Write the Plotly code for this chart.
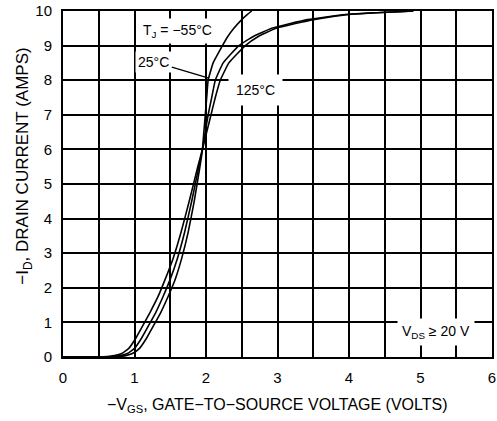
import plotly.graph_objects as go

current_a = [0, 0, 0.01, 0.04, 0.1, 0.25, 0.55, 0.92, 1.3, 1.75, 2.25, 2.85, 3.6, 4.5, 5.5, 6,
             6.5, 7, 7.5, 8, 8.5, 9, 9.25, 9.5, 9.75, 9.9, 10]

# Gate-to-source voltage (V) for each junction temperature at those currents
vgs_m55 = [0, 0.65, 0.78, 0.88, 0.97, 1.07, 1.17, 1.27, 1.37, 1.47, 1.57, 1.66, 1.75, 1.835,
           1.915, 1.95, 1.97, 1.99, 2.01, 2.03, 2.1, 2.23, 2.3, 2.39, 2.5, 2.58, 2.64]
vgs_25 = [0, 0.55, 0.7, 0.8, 0.9, 1.0, 1.1, 1.2, 1.3, 1.4, 1.5, 1.6, 1.7, 1.8,
          1.9, 1.95, 1.99, 2.03, 2.08, 2.13, 2.24, 2.46, 2.65, 2.92, 3.42, 3.95, 4.9]
vgs_125 = [0, 0.45, 0.62, 0.72, 0.82, 0.92, 1.02, 1.12, 1.22, 1.33, 1.43, 1.54, 1.65, 1.765,
           1.885, 1.95, 2.01, 2.07, 2.13, 2.2, 2.32, 2.55, 2.72, 2.98, 3.5, 4.0, 4.9]

x_ticks = [0, 1, 2, 3, 4, 5, 6]
y_ticks = [0, 1, 2, 3, 4, 5, 6, 7, 8, 9, 10]

FONT = "Liberation Sans, Arial, sans-serif"
BLACK = "black"

fig = go.Figure()
for vx in (vgs_m55, vgs_25, vgs_125):
    fig.add_trace(go.Scatter(x=vx, y=current_a, mode="lines",
                             line=dict(color=BLACK, width=1.6, shape="spline", smoothing=0.35),
                             showlegend=False, hoverinfo="skip"))

lab_font = dict(size=14, color=BLACK, family=FONT)
fig.add_annotation(x=1.6, y=9.42, text="T<sub>J</sub> = −55°C", showarrow=False,
                   bgcolor="white", borderpad=3, font=lab_font)
fig.add_annotation(x=2.04, y=8.06, ax=1.27, ay=8.53, axref="x", ayref="y",
                   text="25°C", showarrow=True, arrowhead=0, arrowwidth=1.3,
                   arrowcolor=BLACK, bgcolor="white", borderpad=2, standoff=0,
                   font=lab_font)
fig.add_annotation(x=2.69, y=7.72, text="125°C", showarrow=False, bgcolor="white",
                   borderpad=7, font=lab_font)
fig.add_annotation(x=5.22, y=0.72, text="V<sub>DS</sub> ≥ 20 V", showarrow=False,
                   bgcolor="white", borderpad=4, font=lab_font)

# axis titles
fig.add_annotation(xref="paper", yref="paper", x=0.5, y=0, yshift=-48,
                   text="−V<sub>GS</sub>, GATE−TO−SOURCE VOLTAGE (VOLTS)", showarrow=False,
                   xanchor="center", yanchor="middle",
                   font=dict(size=16, color=BLACK, family=FONT))
fig.add_annotation(xref="paper", yref="paper", x=0, y=0.55, xshift=-39,
                   text="−I<sub>D</sub>, DRAIN CURRENT (AMPS)", showarrow=False, textangle=-90,
                   xanchor="center", yanchor="middle",
                   font=dict(size=17, color=BLACK, family=FONT))

fig.update_xaxes(range=[0, 6], tickvals=x_ticks, ticktext=[str(t) for t in x_ticks],
                 showgrid=True, gridcolor=BLACK, gridwidth=2,
                 minor=dict(dtick=0.5, tick0=0, showgrid=True, gridcolor=BLACK, gridwidth=2),
                 showline=True, linecolor=BLACK, linewidth=2, mirror=True,
                 ticks="", zeroline=False, automargin=False, ticklabelstandoff=6,
                 ticklabeloverflow="allow",
                 tickfont=dict(size=15, color=BLACK, family=FONT))
fig.update_yaxes(range=[0, 10], tickvals=y_ticks,
                 showgrid=True, gridcolor=BLACK, gridwidth=2,
                 showline=True, linecolor=BLACK, linewidth=2, mirror=True,
                 ticks="", zeroline=False, automargin=False, ticklabelstandoff=6,
                 ticklabeloverflow="allow",
                 tickfont=dict(size=15, color=BLACK, family=FONT))

fig.update_layout(width=497, height=421, margin=dict(l=63, r=5, t=11, b=64),
                  paper_bgcolor="white", plot_bgcolor="white")

# remove the default page margin so the figure sits at the window's top-left corner
fig.write_html("out.html", config={"displayModeBar": False},
               post_script="document.body.style.margin='0';")
